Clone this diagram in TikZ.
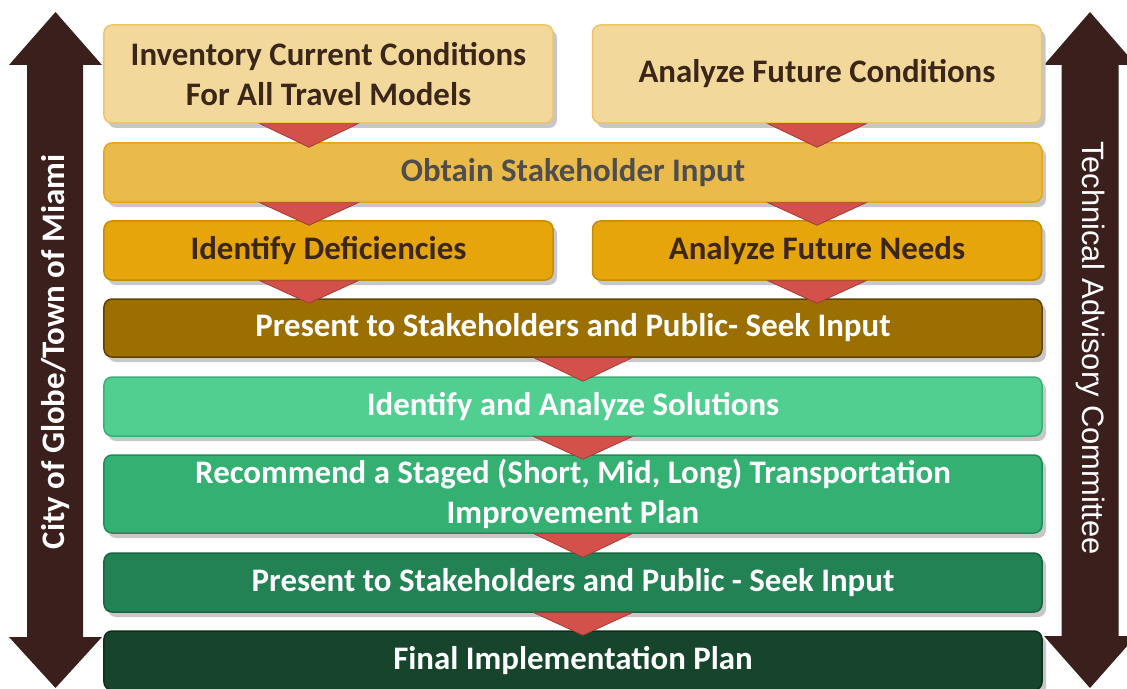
\documentclass[tikz,border=0pt]{standalone}
\usepackage{fontspec}
\setmainfont{Carlito}
\newfontfamily\arialfont{Liberation Sans}
\usetikzlibrary{shadows}

\definecolor{paleGold}{HTML}{F2D99B}
\definecolor{paleGoldLine}{HTML}{EEC465}
\definecolor{midGold}{HTML}{EABB4A}
\definecolor{midGoldLine}{HTML}{E3A51E}
\definecolor{deepGold}{HTML}{E5A50B}
\definecolor{deepGoldLine}{HTML}{C58C05}
\definecolor{oliveBrown}{HTML}{9B6F02}
\definecolor{oliveBrownLine}{HTML}{5E4200}
\definecolor{mintGreen}{HTML}{51CF91}
\definecolor{mintGreenLine}{HTML}{3BAF74}
\definecolor{midGreen}{HTML}{33B072}
\definecolor{midGreenLine}{HTML}{228C57}
\definecolor{darkGreen}{HTML}{238254}
\definecolor{darkGreenLine}{HTML}{17643E}
\definecolor{deepGreen}{HTML}{16452C}
\definecolor{deepGreenLine}{HTML}{0E2E1D}
\definecolor{triRed}{HTML}{D4514B}
\definecolor{sideBrown}{HTML}{3A1F1C}
\definecolor{inkBrown}{HTML}{3B2619}
\definecolor{inkGray}{HTML}{4E4E4E}

\begin{document}
\begin{tikzpicture}[x=1bp,y=-1bp,
    box/.style={rounded corners=8bp, draw, line width=1.5bp, inner sep=0pt,
      align=center, font=\fontsize{33}{40}\selectfont\bfseries,
      drop shadow={shadow xshift=4bp, shadow yshift=-5bp, fill=black!22, opacity=1}},
    halfbox/.style={box, minimum width=449bp},
    fullbox/.style={box, minimum width=938bp, minimum height=59bp},
    tri/.style={fill=triRed, draw=triRed!75!black, line width=0.8bp},
    sidearrow/.style={fill=sideBrown},
    sidetext/.style={text=white, inner sep=0pt}]
    \useasboundingbox (0,0) rectangle (1127,689);

    % side arrows
    \fill[sidearrow] (27,65) -- (9,65) -- (55.5,12) -- (102,65) -- (83,65) -- (83,637)
      -- (102,637) -- (55.5,688) -- (9,637) -- (27,637) -- cycle;
    \fill[sidearrow] (1061.5,65) -- (1044,65) -- (1090,12) -- (1136,65) -- (1118.5,65) -- (1118.5,636)
      -- (1136,636) -- (1090,688) -- (1044,636) -- (1061.5,636) -- cycle;
    \node[sidetext, rotate=90, font=\fontsize{33}{40}\selectfont\bfseries] (city) at (55.5,352) {City of Globe/Town of Miami};
    \node[sidetext, rotate=-90, font=\fontsize{31}{38}\selectfont\arialfont] (tac) at (1090,348) {Technical Advisory Committee};

    % boxes
    \node[halfbox, minimum height=98bp, fill=paleGold, draw=paleGoldLine, text=inkBrown] (inv) at (328.5,74) {Inventory Current Conditions\\For All Travel Models};
    \node[halfbox, minimum height=98bp, fill=paleGold, draw=paleGoldLine, text=inkBrown] (afc) at (817,74) {Analyze Future Conditions};
    \node[fullbox, fill=midGold, draw=midGoldLine, text=inkGray] (obt) at (573,172.5) {Obtain Stakeholder Input};
    \node[halfbox, minimum height=59bp, fill=deepGold, draw=deepGoldLine, text=inkBrown] (idf) at (328.5,250.5) {Identify Deficiencies};
    \node[halfbox, minimum height=59bp, fill=deepGold, draw=deepGoldLine, text=inkBrown] (afn) at (817,250.5) {Analyze Future Needs};
    \node[fullbox, minimum height=58bp, fill=oliveBrown, draw=oliveBrownLine, text=white] (pres) at (573,328) {Present to Stakeholders and Public- Seek Input};
    \node[fullbox, fill=mintGreen, draw=mintGreenLine, text=white] (ias) at (573,406.5) {Identify and Analyze Solutions};
    \node[fullbox, minimum height=78bp, fill=midGreen, draw=midGreenLine, text=white] (rec) at (573,494) {Recommend a Staged (Short, Mid, Long) Transportation\\Improvement Plan};
    \node[fullbox, fill=darkGreen, draw=darkGreenLine, text=white] (pretwo) at (573,582.5) {Present to Stakeholders and Public - Seek Input};
    \node[fullbox, fill=deepGreen, draw=deepGreenLine, text=white] (fin) at (573,660.5) {Final Implementation Plan};

    % red connectors
    \foreach \cx/\up/\dn in {309/inv/obt, 817/afc/obt, 309/obt/idf, 817/obt/afn, 309/idf/pres,
        817/afn/pres, 583/pres/ias, 583/ias/rec, 583/rec/pretwo, 583/pretwo/fin}
      \filldraw[tri] (\cx-49,0 |- \up.south) -- (\cx+49,0 |- \up.south)
        -- ([yshift=-5bp]\cx,0 |- \dn.north) -- cycle;
  \end{tikzpicture}
\end{document}
